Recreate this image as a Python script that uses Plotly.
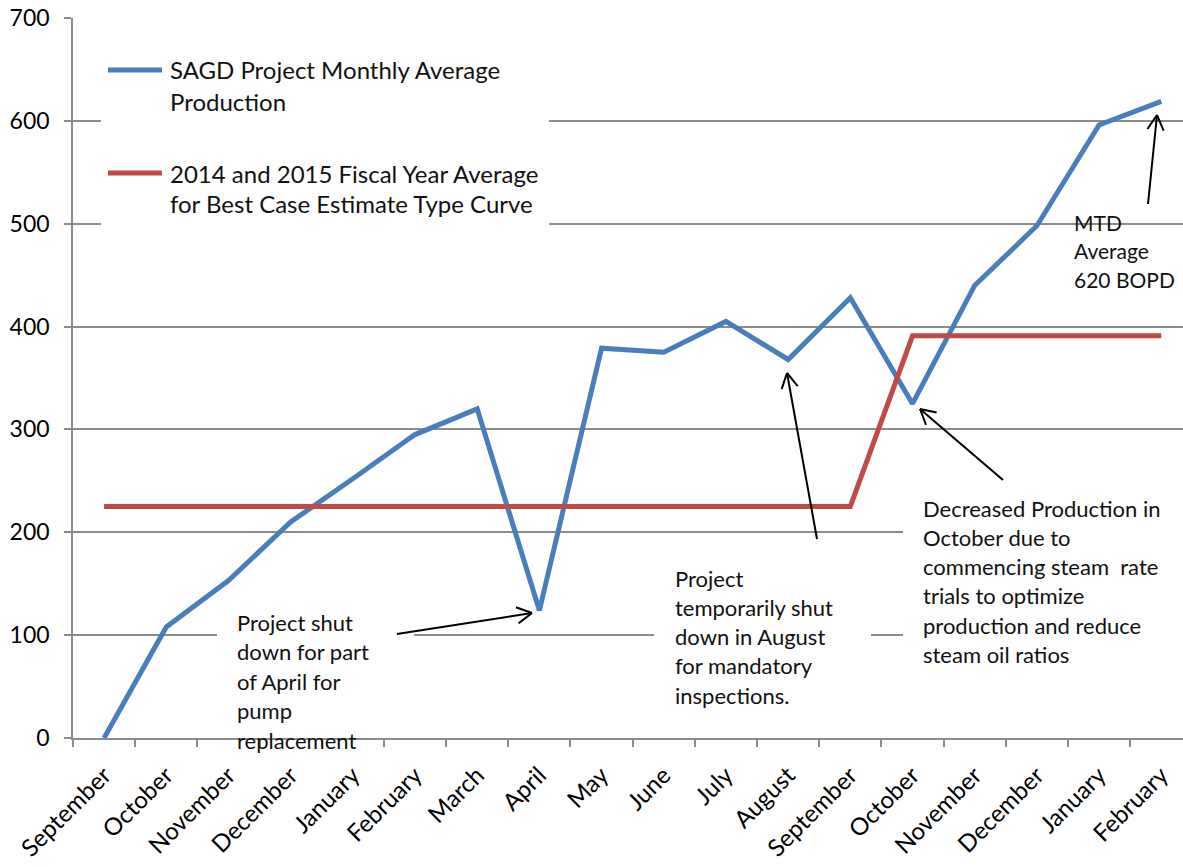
import math
import plotly.graph_objects as go

# ---------------- data ----------------
months = ["September", "October", "November", "December", "January", "February",
          "March", "April", "May", "June", "July", "August", "September",
          "October", "November", "December", "January", "February"]
production = [0, 108, 153, 210, 252, 295, 320, 124, 379, 375, 405, 368, 428,
              325, 440, 498, 596, 619]
type_curve = [225, 225, 225, 225, 225, 225, 225, 225, 225, 225, 225, 225, 225,
              391, 391, 391, 391, 391]
y_ticks = [0, 100, 200, 300, 400, 500, 600, 700]

series_names = ["SAGD Project Monthly Average<br>Production",
                "2014 and 2015 Fiscal Year Average<br>for Best Case Estimate Type Curve"]
note_april = ["Project shut", "down for part", "of April for", "pump", "replacement"]
note_august = ["Project", "temporarily shut", "down in August", "for mandatory", "inspections."]
note_october = ["Decreased Production in", "October due to", "commencing steam  rate",
                "trials to optimize", "production and reduce", "steam oil ratios"]
note_mtd = ["MTD", "Average", "620 BOPD"]

# ---------------- geometry helpers (window pixel -> axis / paper units) ----------------
WIN_W, WIN_H = 1183, 867
W, H = WIN_W, WIN_H
L, R_EDGE, TOP, BOT = 73, 1183, 18, 738   # plot area in window pixels
X0, X1 = -0.5, 17.35
PXX = (R_EDGE - L) / (X1 - X0)
PXY = (BOT - TOP) / 700.0

def xd(px):
    return (px - L) / PXX + X0

def yd(py):
    return (BOT - py) / PXY

def xp(px):
    return (px - L) / (R_EDGE - L)

def yp(py):
    return (BOT - py) / (BOT - TOP)

BLUE = "#4A7EBB"
RED = "#BE4B48"
GRID = "#8C8C8C"
FONT = "Lato"
x = list(range(len(months)))

fig = go.Figure()
fig.add_trace(go.Scatter(x=x, y=production, mode="lines", name=series_names[0],
                         line=dict(color=BLUE, width=5), showlegend=False))
fig.add_trace(go.Scatter(x=x, y=type_curve, mode="lines", name=series_names[1],
                         line=dict(color=RED, width=5), showlegend=False))

shapes = []
# white text-box backgrounds hiding gridlines
for (x_a, y_a, x_b, y_b) in [(101, 35, 549, 236), (217, 598, 414, 726),
                             (654, 555, 871, 722), (903, 490, 1183, 672)]:
    shapes.append(dict(type="rect", xref="x", yref="y", layer="between",
                       x0=xd(x_a), x1=xd(x_b), y0=yd(y_b), y1=yd(y_a),
                       fillcolor="white", line=dict(width=0)))
# legend swatches
for (py, col) in [(70, BLUE), (173, RED)]:
    shapes.append(dict(type="line", xref="paper", yref="paper", layer="above",
                       x0=xp(108), x1=xp(162), y0=yp(py), y1=yp(py),
                       line=dict(color=col, width=5)))

# arrows: shaft + open head (tip, tail in window pixels)
def line_shape(p, q):
    return dict(type="line", xref="paper", yref="paper", layer="above",
                x0=xp(p[0]), y0=yp(p[1]), x1=xp(q[0]), y1=yp(q[1]),
                line=dict(color="black", width=2))

for (tip, tail) in [((532, 613), (397, 634)), ((787, 373), (817, 539)),
                    ((920, 409), (1003, 480)), ((1157, 115), (1148, 204))]:
    shapes.append(line_shape(tail, tip))
    ang = math.atan2(tail[1] - tip[1], tail[0] - tip[0])
    for d in (0.5, -0.5):
        a = ang + d
        shapes.append(line_shape(tip, (tip[0] + 17 * math.cos(a), tip[1] + 17 * math.sin(a))))

annotations = []

def add_lines(lines, left_px, first_py, step, size=22):
    for i, t in enumerate(lines):
        annotations.append(dict(x=xp(left_px), y=yp(first_py + i * step),
                                xref="paper", yref="paper",
                                text=t, showarrow=False, xanchor="left", yanchor="middle",
                                font=dict(family=FONT, size=size, color="#111111")))

# legend text
for i, name in enumerate(series_names):
    add_lines(name.split("<br>"), 168, 70 + i * 103, 31, size=24)

add_lines(note_april, 235, 622, 29.5)
add_lines(note_august, 673, 578, 29.3)
add_lines(note_october, 921, 508, 29.3)
add_lines(note_mtd, 1072, 222, 28.7, size=21)

fig.update_layout(
    width=W, height=H,
    margin=dict(l=L, r=WIN_W - R_EDGE, t=TOP, b=WIN_H - BOT, autoexpand=False),
    plot_bgcolor="white", paper_bgcolor="white",
    shapes=shapes, annotations=annotations,
    font=dict(family=FONT, color="#000000"),
)
fig.update_xaxes(range=[X0, X1], tickmode="array", tickvals=x, ticktext=months,
                 tickangle=-45, ticks="", showgrid=False, zeroline=False, automargin=False,
                 showline=True, linecolor=GRID, linewidth=1.5, ticklabelstandoff=12,
                 ticklabeloverflow="allow",
                 tickfont=dict(family=FONT, size=24, color="#000000"),
                 minor=dict(tickmode="array", tickvals=[v + 0.5 for v in x[:-1]] + [-0.5],
                            ticks="outside", ticklen=7, tickcolor=GRID, tickwidth=1.5,
                            showgrid=False))
fig.update_yaxes(range=[0, 700], tickmode="array", tickvals=y_ticks, automargin=False,
                 ticks="outside", ticklen=7, tickcolor=GRID, tickwidth=1.5,
                 showgrid=True, gridcolor=GRID, gridwidth=1.5, zeroline=False,
                 showline=True, linecolor=GRID, linewidth=1.5,
                 ticklabelstandoff=10, ticklabeloverflow="allow",
                 tickfont=dict(family=FONT, size=23, color="#000000"))

# remove the page's default 8px body margin so the figure fills the window
fig.write_html("out.html", config={"displayModeBar": False},
               post_script="document.body.style.margin='0px';")
